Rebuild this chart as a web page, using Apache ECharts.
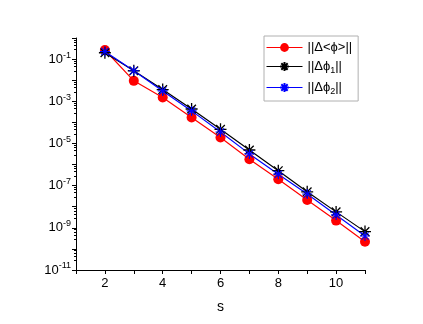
<!DOCTYPE html>
<html>
    <head>
        <meta charset="utf-8">
        <title>chart</title>
        <script src="https://cdn.jsdelivr.net/npm/echarts@6/dist/echarts.min.js"></script>
        <style>
            html, body {margin: 0; padding: 0; background: #fff;}
        </style>
    </head>
    <body>
        <div id="main" style="width: 423px;height: 324px;"></div>
        <script>
            // values
            let s = [2, 3, 4, 5, 6, 7, 8, 9, 10, 11];
            let dAvg = [0.27, 9.3e-3, 1.5e-3, 1.7e-4, 1.9e-5, 1.8e-6, 2.0e-7, 2.1e-8, 2.2e-9, 2.2e-10];
            let dPhi1 = [0.20, 2.8e-2, 3.6e-3, 4.3e-4, 4.7e-5, 4.9e-6, 5.1e-7, 5.1e-8, 5.7e-9, 6.6e-10];
            let dPhi2 = [0.23, 2.8e-2, 3.1e-3, 3.5e-4, 3.5e-5, 3.2e-6, 3.5e-7, 4.0e-8, 4.1e-9, 4.1e-10];
            let names = ['avg', 'phi1', 'phi2'];
            let xLabels = [2, 4, 6, 8, 10];

            let star = 'path://M0,-1L0,1M-1,0L1,0M-0.72,-0.72L0.72,0.72M-0.72,0.72L0.72,-0.72';
            let font = 'Liberation Sans';

            function pairs(arr) {
                return s.map(function (x, i) { return [x, arr[i]]; });
            }

            let option = {
                animation: false,
                textStyle: {fontFamily: font},
                grid: {left: 76, right: 58, top: 38, bottom: 54},
                legend: {
                    orient: 'vertical',
                    left: 264,
                    top: 36,
                    width: 94,
                    padding: [5, 6, 5, 2],
                    itemGap: 6,
                    itemWidth: 36,
                    itemHeight: 11,
                    borderColor: '#b0b0b0',
                    borderWidth: 1,
                    lineStyle: {width: 1},
                    data: names,
                    formatter: function (n) {
                        if (n === 'avg') return '||Δ<ϕ>||';
                        if (n === 'phi1') return '||Δϕ{sub|1}||';
                        return '||Δϕ{sub|2}||';
                    },
                    textStyle: {
                        fontSize: 13,
                        color: '#000',
                        fontFamily: font,
                        rich: {
                            sub: {fontSize: 9, fontFamily: font, color: '#000', padding: [8, 0, 0, 0]}
                        }
                    }
                },
                xAxis: {
                    type: 'value',
                    min: 1,
                    max: 11,
                    interval: 1,
                    name: 's',
                    nameLocation: 'middle',
                    nameGap: 30,
                    nameTextStyle: {fontSize: 14, color: '#000', fontFamily: font},
                    splitLine: {show: false},
                    axisLine: {onZero: false, lineStyle: {color: '#000', width: 1}},
                    axisTick: {show: true, length: 4, lineStyle: {color: '#000'}},
                    axisLabel: {
                        fontSize: 13,
                        color: '#000',
                        margin: 7,
                        customValues: xLabels
                    }
                },
                yAxis: {
                    type: 'log',
                    logBase: 10,
                    min: 1e-11,
                    max: 1,
                    interval: 1,
                    splitLine: {show: false},
                    axisLine: {show: true, lineStyle: {color: '#000', width: 1}},
                    axisTick: {show: true, length: 4, lineStyle: {color: '#000'}},
                    minorTick: {show: true, splitNumber: 5, length: 2, lineStyle: {color: '#000'}},
                    axisLabel: {
                        color: '#000',
                        margin: 5,
                        formatter: function (v) {
                            let e = Math.round(Math.log10(v));
                            if (Math.abs(e) % 2 === 1) return '{b|10}{e|' + e + '}';
                            return '';
                        },
                        rich: {
                            b: {fontSize: 13, fontFamily: font, color: '#000'},
                            e: {fontSize: 9, fontFamily: font, color: '#000', padding: [0, 0, 8, 0]}
                        }
                    }
                },
                series: [
                    {
                        name: 'avg',
                        type: 'line',
                        data: pairs(dAvg),
                        symbol: 'circle',
                        symbolSize: 10,
                        color: '#ff0000',
                        lineStyle: {width: 1.2, color: '#ff0000'},
                        itemStyle: {color: '#ff0000'}
                    },
                    {
                        name: 'phi1',
                        type: 'line',
                        data: pairs(dPhi1),
                        symbol: star,
                        symbolSize: 12,
                        color: '#000',
                        lineStyle: {width: 1.2, color: '#000'},
                        itemStyle: {color: '#000', borderColor: '#000', borderWidth: 1.3}
                    },
                    {
                        name: 'phi2',
                        type: 'line',
                        data: pairs(dPhi2),
                        symbol: star,
                        symbolSize: 10,
                        color: '#0000ff',
                        lineStyle: {width: 1.2, color: '#0000ff'},
                        itemStyle: {color: '#0000ff', borderColor: '#0000ff', borderWidth: 1.1}
                    }
                ]
            };

            let chart = echarts.init(document.getElementById('main'));
            chart.setOption(option);
        </script>
    </body>
</html>
